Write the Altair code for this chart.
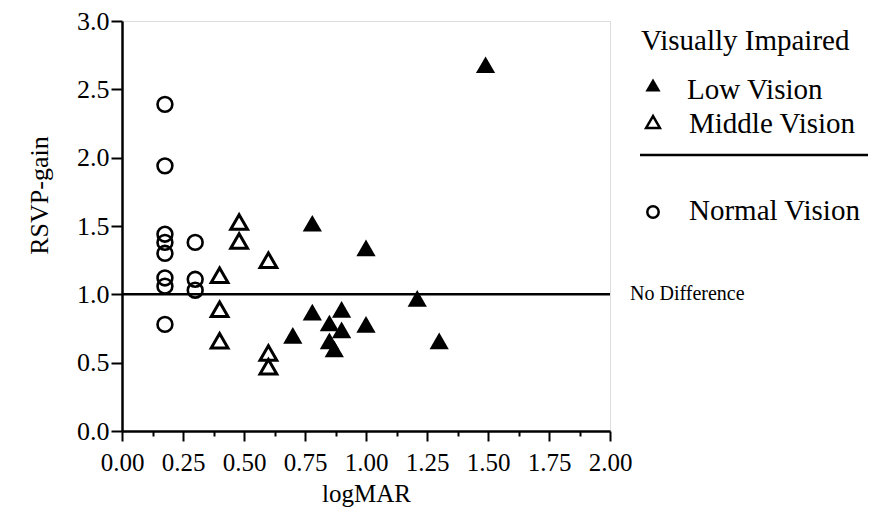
import altair as alt
import pandas as pd

# ---- data ----
low_x = [1.49, 0.78, 1.00, 1.21, 0.78, 0.90, 0.85, 0.90, 1.00, 0.70, 0.85, 0.87, 1.30]
low_y = [2.68, 1.52, 1.34, 0.97, 0.87, 0.89, 0.79, 0.74, 0.78, 0.70, 0.66, 0.60, 0.66]

middle_x = [0.48, 0.48, 0.60, 0.40, 0.40, 0.40, 0.60, 0.60]
middle_y = [1.53, 1.39, 1.25, 1.14, 0.89, 0.66, 0.57, 0.47]

normal_x = [0.176, 0.176, 0.176, 0.176, 0.176, 0.176, 0.176, 0.176, 0.30, 0.30, 0.30]
normal_y = [2.39, 1.94, 1.44, 1.38, 1.30, 1.12, 1.06, 0.78, 1.38, 1.11, 1.03]

reference_line = [1.0]

x_tick_values = [0, 0.125, 0.25, 0.375, 0.5, 0.625, 0.75, 0.875, 1.0,
                 1.125, 1.25, 1.375, 1.5, 1.625, 1.75, 1.875, 2.0]
y_tick_values = [0, 0.25, 0.5, 0.75, 1.0, 1.25, 1.5, 1.75, 2.0,
                 2.25, 2.5, 2.75, 3.0]

FONT = "Liberation Serif"

low_df = pd.DataFrame({"logMAR": low_x, "gain": low_y})
middle_df = pd.DataFrame({"logMAR": middle_x, "gain": middle_y})
normal_df = pd.DataFrame({"logMAR": normal_x, "gain": normal_y})
line_df = pd.DataFrame({"gain": reference_line})
one = pd.DataFrame({"k": [0]})

x_scale = alt.Scale(domain=[0, 2], nice=False, zero=False)
y_scale = alt.Scale(domain=[0, 3], nice=False)

x_axis = alt.Axis(
    values=x_tick_values,
    labelExpr="datum.value % 0.25 === 0 ? format(datum.value, '.2f') : ''",
    tickSize={"condition": {"test": "datum.value % 0.25 !== 0", "value": 5}, "value": 10},
    grid=False, domainColor="black", domainWidth=2.5, tickColor="black", tickWidth=2,
    labelFont=FONT, labelFontSize=25, labelColor="black", labelPadding=9, labelFlush=False,
    labelOverlap=False,
    title="logMAR", titleFont=FONT, titleFontSize=25, titleFontWeight="normal",
    titleColor="black", titleY=70, titleBaseline="alphabetic",
)
y_axis = alt.Axis(
    values=y_tick_values,
    labelExpr="datum.value % 0.5 === 0 ? format(datum.value, '.1f') : ''",
    tickSize={"condition": {"test": "datum.value % 0.5 !== 0", "value": 6}, "value": 11},
    grid=False, domainColor="black", domainWidth=2.5, tickColor="black", tickWidth=2,
    labelFont=FONT, labelFontSize=26, labelColor="black", labelPadding=2, labelFlush=False,
    labelOverlap=False,
    title="RSVP-gain", titleFont=FONT, titleFontSize=26, titleFontWeight="normal",
    titleColor="black", titleX=-83, titleY=174, titleAngle=270,
    titleAlign="center", titleBaseline="middle",
)

X = alt.X("logMAR:Q", scale=x_scale, axis=x_axis)
Y = alt.Y("gain:Q", scale=y_scale, axis=y_axis)

rule = alt.Chart(line_df).mark_rule(color="black", strokeWidth=2.5).encode(
    y=alt.Y("gain:Q", scale=y_scale, axis=y_axis)
)
rule_text = alt.Chart(line_df).mark_text(
    text="No Difference", align="left", baseline="middle", font=FONT, fontSize=20, color="black"
).encode(y=alt.Y("gain:Q", scale=y_scale), x=alt.value(508))

normal = alt.Chart(normal_df).mark_point(
    shape="circle", filled=False, color="black", strokeWidth=2.6, size=220, opacity=1
).encode(x=X, y=Y)
middle = alt.Chart(middle_df).mark_point(
    shape="triangle-up", filled=False, color="black", strokeWidth=3, size=280, opacity=1
).encode(x=X, y=Y)
low = alt.Chart(low_df).mark_point(
    shape="triangle-up", filled=True, color="black", size=370, opacity=1
).encode(x=X, y=Y)

# ---- manual legend (as in the reference) ----
def legend_text(txt, x, y):
    return alt.Chart(one).mark_text(
        text=txt, align="left", baseline="alphabetic", font=FONT, fontSize=29, color="black"
    ).encode(x=alt.value(x), y=alt.value(y))

leg_head = legend_text("Visually Impaired", 519, 29)
leg_low_m = alt.Chart(one).mark_point(
    shape="triangle-up", filled=True, color="black", size=230, opacity=1
).encode(x=alt.value(531), y=alt.value(64))
leg_low_t = legend_text("Low Vision", 565, 78)
leg_mid_m = alt.Chart(one).mark_point(
    shape="triangle-up", filled=False, color="black", strokeWidth=2.5, size=190, opacity=1
).encode(x=alt.value(531), y=alt.value(101))
leg_mid_t = legend_text("Middle Vision", 567, 112)
leg_sep = alt.Chart(one).mark_rule(color="black", strokeWidth=2.5).encode(
    x=alt.value(518), x2=alt.value(748), y=alt.value(134)
)
leg_nor_m = alt.Chart(one).mark_point(
    shape="circle", filled=False, color="black", strokeWidth=2.5, size=130, opacity=1
).encode(x=alt.value(531), y=alt.value(191))
leg_nor_t = legend_text("Normal Vision", 567, 199)

chart = alt.layer(
    rule, rule_text, normal, middle, low,
    leg_head, leg_low_m, leg_low_t, leg_mid_m, leg_mid_t, leg_sep, leg_nor_m, leg_nor_t,
).properties(
    width=488, height=410,
    autosize=alt.AutoSizeParams(type="none"),
    padding={"left": 114, "top": 13, "right": 258, "bottom": 78},
).configure_view(
    stroke="black", strokeWidth=2.5
).configure(background="white")

chart.save("out.html", embed_options={"renderer": "svg", "actions": False})
